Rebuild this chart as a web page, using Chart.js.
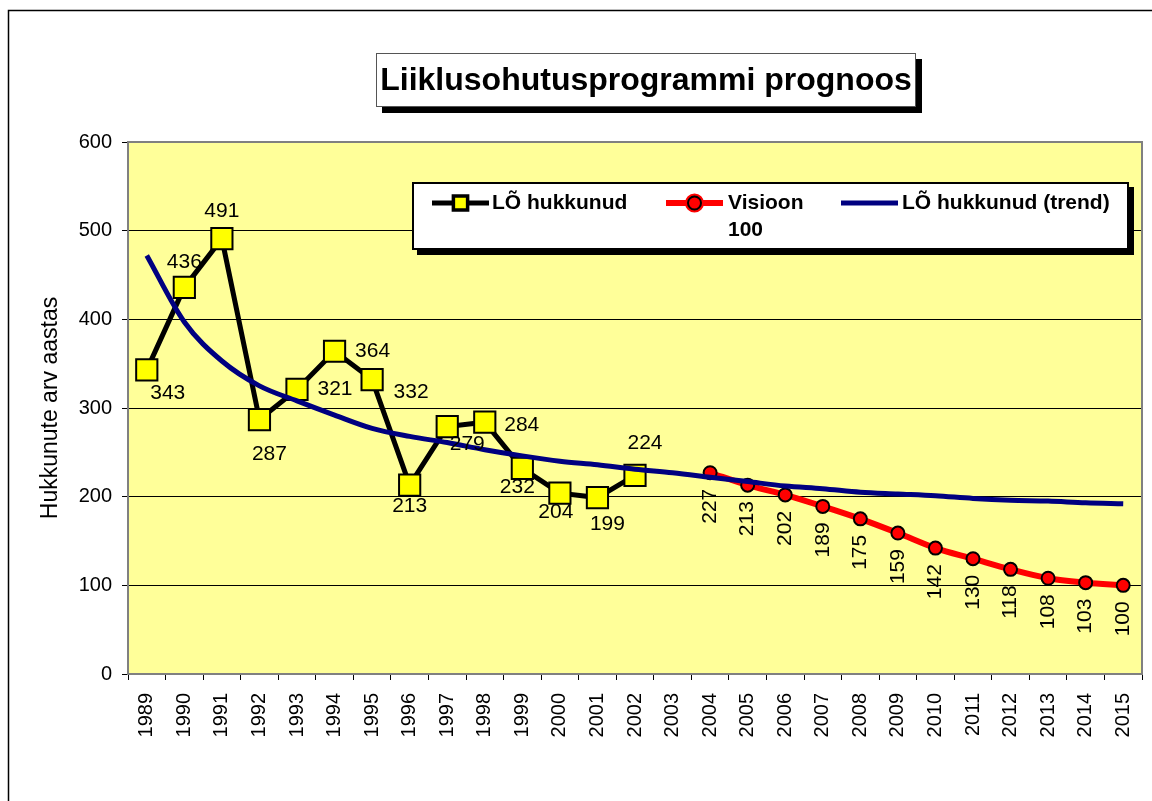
<!DOCTYPE html>
<html>
<head>
<meta charset="utf-8">
<script src="https://cdn.jsdelivr.net/npm/chart.js@4/dist/chart.umd.min.js"></script>
<style>
html, body { margin: 0; padding: 0; background: #fff; overflow: hidden; }
canvas { display: block; }
</style>
</head>
<body>
<canvas id="myChart" width="1152" height="801"></canvas>
<script>
// data
const YEARS = ['1989','1990','1991','1992','1993','1994','1995','1996','1997','1998','1999','2000','2001','2002',
               '2003','2004','2005','2006','2007','2008','2009','2010','2011','2012','2013','2014','2015'];
const LO_HUKKUNUD = [343,436,491,287,321,364,332,213,279,284,232,204,199,224,
                     null,null,null,null,null,null,null,null,null,null,null,null,null];
const VISIOON = [null,null,null,null,null,null,null,null,null,null,null,null,null,null,null,
                 227,213,202,189,175,159,142,130,118,108,103,100];
const LO_TREND = [472,397,353,325,308,292,277,268,261,253,246,240,236,231,
                  227,222,217,212,209,205,203,201,198,196,195,193,192];
const Y_TICKS = [0,100,200,300,400,500,600];

const FONT = '"Liberation Sans", Arial, sans-serif';

// label placement for the black series (dx, dy from the marker)
const LO_LABEL_POS = [[21,23],[0,-25],[0,-27],[10,35],[38,0],[38,0],[39,13],
                      [0,21],[20,18],[37,3],[-5,19],[-4,19],[10,27],[10,-32]];

const decor = {
    id: 'decor',
    beforeDraw(chart) {
        const ctx = chart.ctx;
        const a = chart.chartArea;
        ctx.save();
        ctx.strokeStyle = '#000';
        ctx.lineWidth = 1.5;
        ctx.beginPath();
        ctx.moveTo(8.5, 801);
        ctx.lineTo(8.5, 10.5);
        ctx.lineTo(1152, 10.5);
        ctx.stroke();
        ctx.fillStyle = '#FFFF99';
        ctx.fillRect(a.left, a.top, a.right - a.left, a.bottom - a.top);
        ctx.restore();
    },
    beforeDatasetsDraw(chart) {
        const ctx = chart.ctx;
        const a = chart.chartArea;
        ctx.save();
        ctx.strokeStyle = '#808080';
        ctx.lineWidth = 2;
        ctx.strokeRect(a.left, a.top, a.right - a.left, a.bottom - a.top);
        ctx.restore();
    },
    afterDatasetsDraw(chart) {
        const ctx = chart.ctx;
        ctx.save();
        ctx.fillStyle = '#000';
        ctx.font = '21px ' + FONT;
        ctx.textAlign = 'center';
        ctx.textBaseline = 'middle';
        const m0 = chart.getDatasetMeta(0);
        m0.data.forEach((pt, i) => {
            const v = LO_HUKKUNUD[i];
            if (v == null) return;
            const p = LO_LABEL_POS[i] || [0, -25];
            ctx.fillText(String(v), pt.x + p[0], pt.y + p[1]);
        });
        const m1 = chart.getDatasetMeta(1);
        m1.data.forEach((pt, i) => {
            const v = VISIOON[i];
            if (v == null) return;
            ctx.save();
            ctx.translate(pt.x, pt.y + 16);
            ctx.rotate(-Math.PI / 2);
            ctx.textAlign = 'right';
            ctx.fillText(String(v), 0, 0);
            ctx.restore();
        });
        ctx.restore();
    },
    afterDraw(chart) {
        const ctx = chart.ctx;
        ctx.save();
        // title box
        ctx.fillStyle = '#000';
        ctx.fillRect(382, 59, 540, 54);
        ctx.fillStyle = '#fff';
        ctx.fillRect(376, 53, 540, 54);
        ctx.strokeStyle = '#555';
        ctx.lineWidth = 1;
        ctx.strokeRect(376.5, 53.5, 539, 53);
        ctx.fillStyle = '#000';
        ctx.font = 'bold 32px ' + FONT;
        ctx.textAlign = 'center';
        ctx.textBaseline = 'middle';
        ctx.fillText('Liiklusohutusprogrammi prognoos', 646, 81);

        // legend box
        ctx.fillStyle = '#000';
        ctx.fillRect(417, 187, 717, 68);
        ctx.fillStyle = '#fff';
        ctx.fillRect(412, 182, 717, 68);
        ctx.strokeStyle = '#000';
        ctx.lineWidth = 2;
        ctx.strokeRect(413, 183, 715, 66);

        const lineX = [432, 666, 841];
        const textX = [492, 728, 902];
        const ly = 203;
        ctx.font = 'bold 21px ' + FONT;
        ctx.textAlign = 'left';
        chart.data.datasets.forEach((ds, i) => {
            ctx.strokeStyle = ds.borderColor;
            ctx.lineWidth = ds.borderWidth;
            ctx.beginPath();
            ctx.moveTo(lineX[i], ly);
            ctx.lineTo(lineX[i] + 57, ly);
            ctx.stroke();
            if (ds.pointRadius > 0) {
                Chart.helpers.drawPoint(ctx, {
                    pointStyle: ds.pointStyle,
                    radius: ds.pointStyle === 'rect' ? 9 : ds.pointRadius,
                    borderWidth: ds.pointBorderWidth
                }, lineX[i] + 28.5, ly);
                ctx.fillStyle = ds.pointBackgroundColor;
                ctx.strokeStyle = ds.pointBorderColor;
                ctx.lineWidth = ds.pointBorderWidth;
                ctx.fill();
                ctx.stroke();
            }
            // wrap the label when it is too wide
            const words = ds.label.split(' ');
            const lines = [];
            let cur = '';
            words.forEach(w => {
                const t = cur ? cur + ' ' + w : w;
                if (cur && ctx.measureText(t).width > 100 && i === 1) {
                    lines.push(cur);
                    cur = w;
                } else {
                    cur = t;
                }
            });
            lines.push(cur);
            ctx.fillStyle = '#000';
            lines.forEach((l, k) => ctx.fillText(l, textX[i], ly + k * 27));
        });
        ctx.restore();
    }
};

new Chart(document.getElementById('myChart'), {
    type: 'line',
    data: {
        labels: YEARS,
        datasets: [{
            label: 'LÕ hukkunud',
            data: LO_HUKKUNUD,
            borderColor: '#000',
            borderWidth: 5,
            pointStyle: 'rect',
            pointRadius: 15,
            pointBackgroundColor: '#FFFF00',
            pointBorderColor: '#000',
            pointBorderWidth: 2,
            tension: 0,
            order: 2
        }, {
            label: 'Visioon 100',
            data: VISIOON,
            borderColor: '#FF0000',
            borderWidth: 6,
            pointStyle: 'circle',
            pointRadius: 6.5,
            pointBackgroundColor: '#FF0000',
            pointBorderColor: '#000',
            pointBorderWidth: 2,
            tension: 0.4,
            cubicInterpolationMode: 'monotone',
            order: 1
        }, {
            label: 'LÕ hukkunud (trend)',
            data: LO_TREND,
            borderColor: '#000080',
            borderWidth: 5,
            pointRadius: 0,
            tension: 0.4,
            cubicInterpolationMode: 'monotone',
            order: 0
        }]
    },
    options: {
        responsive: false,
        animation: false,
        layout: { autoPadding: false, padding: { left: 30, top: 142, right: 10, bottom: 0 } },
        plugins: {
            legend: { display: false },
            title: { display: false },
            tooltip: { enabled: false }
        },
        scales: {
            x: {
                offset: true,
                afterFit: function(scale) {
                    scale.height = 127;
                    scale.paddingLeft = 0;
                    scale.paddingRight = 0;
                },
                grid: { offset: true, drawOnChartArea: false, drawTicks: true, tickLength: 6, color: '#000' },
                border: { display: false },
                ticks: {
                    color: '#000',
                    font: { family: FONT, size: 20 },
                    minRotation: 90,
                    maxRotation: 90,
                    autoSkip: false,
                    padding: 13
                }
            },
            y: {
                min: 0,
                max: 600,
                afterFit: function(scale) { scale.width = 98; },
                afterBuildTicks: function(scale) { scale.ticks = Y_TICKS.map(v => ({ value: v })); },
                grid: { color: '#000', lineWidth: 1, tickLength: 6 },
                border: { display: false },
                ticks: {
                    color: '#000',
                    font: { family: FONT, size: 20 },
                    padding: 10
                },
                title: {
                    display: true,
                    text: 'Hukkunute arv aastas',
                    color: '#000',
                    font: { family: FONT, size: 23 },
                    padding: { top: 7, bottom: 0 }
                }
            }
        }
    },
    plugins: [decor]
});
</script>
</body>
</html>
